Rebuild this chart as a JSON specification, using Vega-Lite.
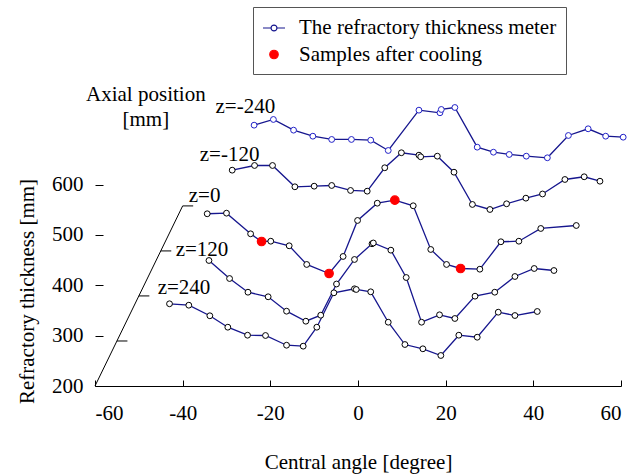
{
  "$schema": "https://vega.github.io/schema/vega-lite/v6.json",
  "width": 526,
  "height": 292,
  "autosize": "none",
  "padding": {"left": 95, "top": 94, "right": 23, "bottom": 89},
  "background": "white",
  "config": {
    "view": {"stroke": null},
    "font": "Liberation Serif",
    "axis": {
      "labelFont": "Liberation Serif", "labelFontSize": 21, "labelColor": "black",
      "titleFont": "Liberation Serif", "titleFontSize": 21, "titleFontWeight": "normal", "titleColor": "black",
      "domainColor": "black", "tickColor": "black", "grid": false
    }
  },
  "datasets": {
    "series": [
      {"z": -240, "x": -23.7, "y": 718.1}, {"z": -240, "x": -19.3, "y": 729.4}, {"z": -240, "x": -14.7, "y": 708.2},
      {"z": -240, "x": -10.3, "y": 696.2}, {"z": -240, "x": -6.0, "y": 689.7}, {"z": -240, "x": -1.5, "y": 689.7},
      {"z": -240, "x": 2.9, "y": 688.3}, {"z": -240, "x": 6.9, "y": 667.8}, {"z": -240, "x": 13.9, "y": 747.9},
      {"z": -240, "x": 18.7, "y": 742.7}, {"z": -240, "x": 19.0, "y": 749.3}, {"z": -240, "x": 22.1, "y": 753.2},
      {"z": -240, "x": 27.2, "y": 674.4}, {"z": -240, "x": 30.9, "y": 664.4}, {"z": -240, "x": 34.5, "y": 659.9},
      {"z": -240, "x": 38.4, "y": 656.5}, {"z": -240, "x": 43.2, "y": 653.3}, {"z": -240, "x": 48.0, "y": 697.6},
      {"z": -240, "x": 52.5, "y": 710.9}, {"z": -240, "x": 56.5, "y": 696.2}, {"z": -240, "x": 60.5, "y": 694.2},

      {"z": -120, "x": -28.7, "y": 628.7}, {"z": -120, "x": -23.6, "y": 638.0}, {"z": -120, "x": -19.5, "y": 638.0},
      {"z": -120, "x": -14.4, "y": 595.7}, {"z": -120, "x": -10.0, "y": 596.9}, {"z": -120, "x": -6.0, "y": 598.3},
      {"z": -120, "x": -1.7, "y": 588.4}, {"z": -120, "x": 2.1, "y": 587.0}, {"z": -120, "x": 6.1, "y": 633.5},
      {"z": -120, "x": 9.9, "y": 663.3}, {"z": -120, "x": 13.9, "y": 658.5}, {"z": -120, "x": 14.3, "y": 655.3},
      {"z": -120, "x": 18.1, "y": 656.5}, {"z": -120, "x": 21.9, "y": 624.7}, {"z": -120, "x": 26.1, "y": 560.6},
      {"z": -120, "x": 30.1, "y": 550.6}, {"z": -120, "x": 33.9, "y": 561.9}, {"z": -120, "x": 38.3, "y": 573.1},
      {"z": -120, "x": 42.1, "y": 581.4}, {"z": -120, "x": 47.2, "y": 610.2}, {"z": -120, "x": 51.6, "y": 615.6},
      {"z": -120, "x": 55.2, "y": 606.8},

      {"z": 0, "x": -34.4, "y": 542.1}, {"z": 0, "x": -30.0, "y": 543.3}, {"z": 0, "x": -24.5, "y": 502.3},
      {"z": 0, "x": -22.0, "y": 487.0}, {"z": 0, "x": -19.9, "y": 487.6}, {"z": 0, "x": -15.7, "y": 478.5},
      {"z": 0, "x": -11.7, "y": 441.4}, {"z": 0, "x": -6.6, "y": 423.5}, {"z": 0, "x": -3.4, "y": 457.3},
      {"z": 0, "x": -0.1, "y": 528.8}, {"z": 0, "x": 4.4, "y": 563.1}, {"z": 0, "x": 8.4, "y": 569.1},
      {"z": 0, "x": 12.6, "y": 558.0}, {"z": 0, "x": 16.6, "y": 471.2}, {"z": 0, "x": 20.2, "y": 441.4},
      {"z": 0, "x": 23.4, "y": 433.4}, {"z": 0, "x": 27.8, "y": 432.0}, {"z": 0, "x": 32.6, "y": 486.5},
      {"z": 0, "x": 36.7, "y": 487.6}, {"z": 0, "x": 41.7, "y": 512.9}, {"z": 0, "x": 49.8, "y": 518.8},

      {"z": 120, "x": -34.0, "y": 449.3}, {"z": 120, "x": -29.3, "y": 413.5}, {"z": 120, "x": -25.1, "y": 386.3},
      {"z": 120, "x": -20.5, "y": 377.2}, {"z": 120, "x": -16.3, "y": 348.6}, {"z": 120, "x": -11.9, "y": 328.7},
      {"z": 120, "x": -8.5, "y": 340.6}, {"z": 120, "x": -4.9, "y": 402.6}, {"z": 120, "x": -0.8, "y": 451.3},
      {"z": 120, "x": 3.2, "y": 482.5}, {"z": 120, "x": 3.5, "y": 484.1}, {"z": 120, "x": 7.5, "y": 469.8},
      {"z": 120, "x": 11.0, "y": 415.5}, {"z": 120, "x": 14.5, "y": 326.7}, {"z": 120, "x": 18.6, "y": 341.4},
      {"z": 120, "x": 22.1, "y": 334.1}, {"z": 120, "x": 26.7, "y": 378.4}, {"z": 120, "x": 31.2, "y": 386.3},
      {"z": 120, "x": 35.8, "y": 417.5}, {"z": 120, "x": 40.2, "y": 433.4}, {"z": 120, "x": 44.7, "y": 429.4},

      {"z": 240, "x": -43.0, "y": 363.3}, {"z": 240, "x": -38.6, "y": 360.5}, {"z": 240, "x": -33.8, "y": 339.5},
      {"z": 240, "x": -29.7, "y": 316.8}, {"z": 240, "x": -25.2, "y": 300.9}, {"z": 240, "x": -21.1, "y": 300.3},
      {"z": 240, "x": -16.3, "y": 281.0}, {"z": 240, "x": -12.5, "y": 279.1}, {"z": 240, "x": -9.4, "y": 316.8},
      {"z": 240, "x": -5.5, "y": 385.1}, {"z": 240, "x": -0.8, "y": 393.1}, {"z": 240, "x": -0.4, "y": 391.7},
      {"z": 240, "x": 2.9, "y": 387.1}, {"z": 240, "x": 6.9, "y": 326.7}, {"z": 240, "x": 10.7, "y": 282.4},
      {"z": 240, "x": 14.8, "y": 273.9}, {"z": 240, "x": 18.9, "y": 260.6}, {"z": 240, "x": 23.0, "y": 300.9},
      {"z": 240, "x": 27.2, "y": 296.9}, {"z": 240, "x": 32.0, "y": 346.6}, {"z": 240, "x": 35.8, "y": 340.0},
      {"z": 240, "x": 40.9, "y": 348.0}
    ],
    "samples": [
      {"kind": "Samples after cooling", "x": -22.0, "y": 487.0},
      {"kind": "Samples after cooling", "x": -6.6, "y": 423.5},
      {"kind": "Samples after cooling", "x": 8.4, "y": 569.1},
      {"kind": "Samples after cooling", "x": 23.4, "y": 433.4}
    ],
    "zaxis": [{"x": -60, "y": 200}, {"x": -40, "y": 557.7}],
    "zticks": [
      {"x": -55, "x2": -52.6, "y": 289.4},
      {"x": -50, "x2": -47.6, "y": 378.9},
      {"x": -45, "x2": -42.6, "y": 468.3},
      {"x": -40, "x2": -37.6, "y": 557.7}
    ],
    "zlabels": [
      {"text": "z=-240", "x": -32.5, "y": 741.3},
      {"text": "z=-120", "x": -36.1, "y": 646.0},
      {"text": "z=0", "x": -38.6, "y": 564.5},
      {"text": "z=120", "x": -41.6, "y": 459.2},
      {"text": "z=240", "x": -45.7, "y": 381.8}
    ],
    "ztitle": [
      {"text": "Axial position", "x": -48.4, "y": 765.2},
      {"text": "[mm]", "x": -48.4, "y": 715.5}
    ]
  },
  "encoding": {
    "x": {
      "field": "x", "type": "quantitative",
      "scale": {"domain": [-60, 60], "nice": false, "zero": false},
      "axis": {"values": [-60, -40, -20, 0, 20, 40, 60], "tickSize": -6, "labelPadding": 22,
               "labelExpr": "datum.value < 0 ? '-' + abs(datum.value) : '' + datum.value",
               "title": "Central angle [degree]", "titleY": 82, "titleBaseline": "alphabetic"}
    },
    "y": {
      "field": "y", "type": "quantitative",
      "scale": {"domain": [200, 780], "nice": false, "zero": false},
      "axis": {"values": [200, 300, 400, 500, 600], "domain": false, "tickSize": -8, "labelPadding": 20,
               "title": "Refractory thickness [mm]", "titleX": -62, "titleY": 197, "titleBaseline": "alphabetic"}
    }
  },
  "layer": [
    {
      "mark": {"type": "rule", "color": "black", "strokeWidth": 1},
      "encoding": {"x": {"datum": -60}, "y": {"datum": 200}, "y2": {"datum": 600}}
    },
    {
      "data": {"name": "zaxis"},
      "mark": {"type": "line", "color": "black", "strokeWidth": 1},
      "encoding": {}
    },
    {
      "data": {"name": "zticks"},
      "mark": {"type": "rule", "color": "black", "strokeWidth": 1},
      "encoding": {"x2": {"field": "x2"}}
    },
    {
      "data": {"name": "series"},
      "mark": {"type": "line", "color": "#16168e", "strokeWidth": 1.3},
      "encoding": {"detail": {"field": "z", "type": "nominal"}}
    },
    {
      "data": {"name": "series"},
      "mark": {"type": "point", "shape": "circle", "filled": true, "size": 34, "strokeWidth": 1, "opacity": 1},
      "encoding": {
        "fill": {"datum": "The refractory thickness meter", "type": "nominal",
                 "scale": {"domain": ["The refractory thickness meter", "Samples after cooling"], "range": ["white", "red"]}},
        "stroke": {"condition": {"test": "datum.z === -240", "value": "#2222c8"}, "value": "black"}
      }
    },
    {
      "data": {"name": "samples"},
      "mark": {"type": "point", "filled": true, "strokeWidth": 1.2, "opacity": 1},
      "encoding": {
        "fill": {"field": "kind", "type": "nominal",
                 "scale": {"domain": ["The refractory thickness meter", "Samples after cooling"], "range": ["white", "red"]},
                 "legend": {
                   "title": null, "orient": "none", "legendX": 158, "legendY": -87,
                   "padding": 9, "strokeColor": "#555555", "fillColor": "white",
                   "labelFont": "Liberation Serif", "labelFontSize": 21, "labelColor": "black", "labelLimit": 500,
                   "labelExpr": "datum.label + '\u00a0\u00a0\u00a0\u00a0'",
                   "labelOffset": 13, "rowPadding": 5, "symbolStrokeWidth": 1.2
                 }},
        "stroke": {"field": "kind", "type": "nominal",
                   "scale": {"domain": ["The refractory thickness meter", "Samples after cooling"], "range": ["#16168e", "red"]}},
        "shape": {"field": "kind", "type": "nominal",
                  "scale": {"domain": ["The refractory thickness meter", "Samples after cooling"],
                            "range": ["M-1,0H-0.27M0.27,0H1M0.27,0A0.27,0.27,0,1,1,-0.27,0A0.27,0.27,0,1,1,0.27,0", "circle"]}},
        "size": {"field": "kind", "type": "nominal",
                 "scale": {"domain": ["The refractory thickness meter", "Samples after cooling"], "range": [484, 72]}}
      }
    },
    {
      "data": {"name": "zlabels"},
      "mark": {"type": "text", "align": "left", "baseline": "alphabetic", "font": "Liberation Serif", "fontSize": 21, "color": "black"},
      "encoding": {"text": {"field": "text"}}
    },
    {
      "data": {"name": "ztitle"},
      "mark": {"type": "text", "align": "center", "baseline": "alphabetic", "font": "Liberation Serif", "fontSize": 21, "color": "black"},
      "encoding": {"text": {"field": "text"}}
    }
  ]
}
